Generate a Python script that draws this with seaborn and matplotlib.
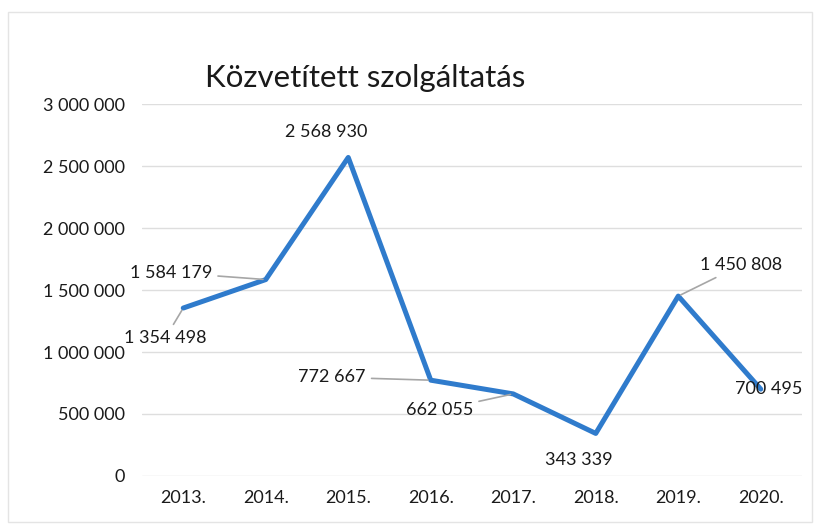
import matplotlib
matplotlib.use("Agg")
import matplotlib.pyplot as plt
import seaborn as sns
import pandas as pd
from matplotlib.patches import Rectangle

years = ["2013.", "2014.", "2015.", "2016.", "2017.", "2018.", "2019.", "2020."]
values = [1354498, 1584179, 2568930, 772667, 662055, 343339, 1450808, 700495]
# label offsets in pixels (dx, dy) and whether a leader line is drawn
label_offsets = [(-18, -30), (-95, 7), (-22, 25), (-99, 3), (-74, -16), (-17, -27), (63, 31), (8, 0)]
leaders = [True, True, False, True, True, False, True, False]

sns.set_theme(style="white")
plt.rcParams["font.family"] = ["Lato", "DejaVu Sans"]

df = pd.DataFrame({"pos": range(len(years)), "value": values})

fig = plt.figure(figsize=(8.18, 5.30), dpi=100)
ax = fig.add_axes([142 / 818, 1 - 476 / 530, 660 / 818, 372 / 530])

sns.lineplot(data=df, x="pos", y="value", ax=ax, color="#2f7bcc", linewidth=3.6)

ax.set_xlim(-0.5, len(years) - 0.5)
ax.set_ylim(0, 3000000)
ax.set_yticks(range(0, 3000001, 500000))
ax.set_yticklabels([f"{v:,}".replace(",", " ") for v in range(0, 3000001, 500000)])
ax.set_xticks(range(len(years)))
ax.set_xticklabels(years)
ax.tick_params(axis="both", length=0, labelsize=13, colors="#1a1a1a")
ax.tick_params(axis="y", pad=12)
ax.tick_params(axis="x", pad=10)
ax.set_xlabel("")
ax.set_ylabel("")
ax.grid(axis="y", color="#dedede", linewidth=1)
ax.grid(axis="x", visible=False)
for s in ax.spines.values():
    s.set_visible(False)

for i, (v, (dx, dy), ld) in enumerate(zip(values, label_offsets, leaders)):
    txt = f"{v:,}".replace(",", " ")
    ax.annotate(txt, xy=(i, v), xytext=(dx, dy), textcoords="offset pixels",
                ha="center", va="center", fontsize=13, color="#1a1a1a",
                arrowprops=dict(arrowstyle="-", color="#a6a6a6", lw=1.2,
                                shrinkA=2, shrinkB=2) if ld else None)

fig.text(365 / 818, 1 - 78 / 530, "Közvetített szolgáltatás", ha="center", va="center",
         fontsize=22.5, color="#1a1a1a")

fig.patches.append(Rectangle((8 / 818, 8 / 530), 804 / 818, 510 / 530, transform=fig.transFigure,
                             fill=False, edgecolor="#e4e4e4", linewidth=1))

fig.savefig("out.png", dpi=100)
